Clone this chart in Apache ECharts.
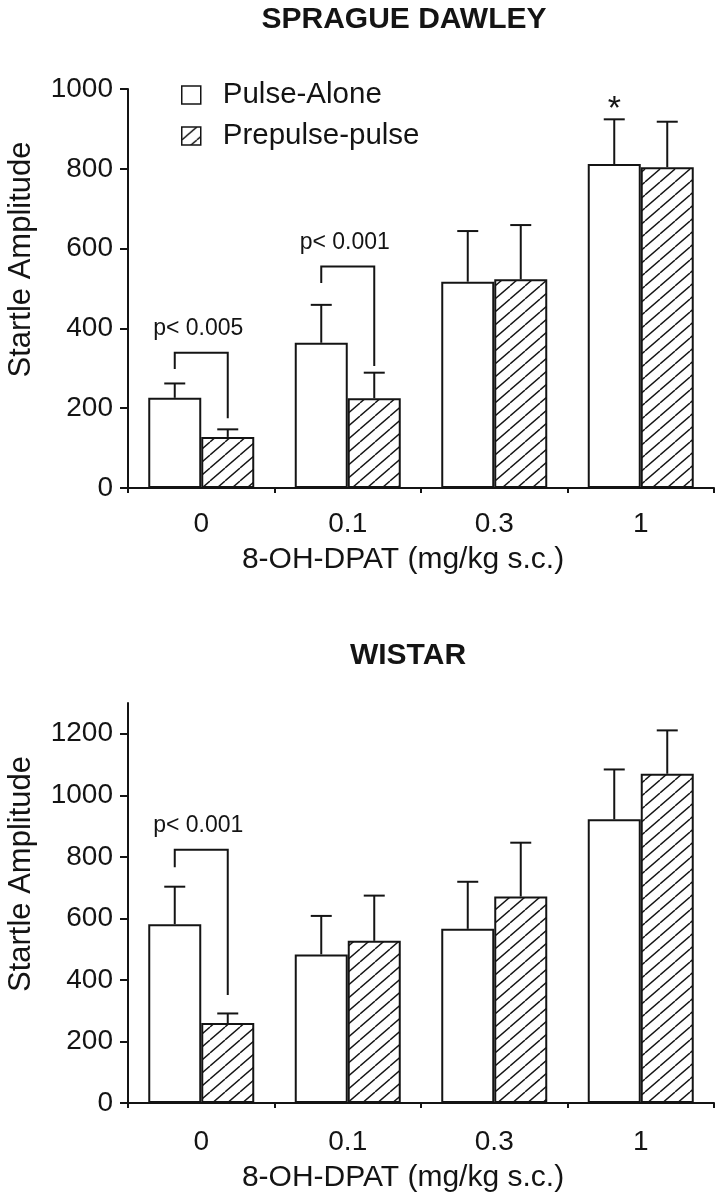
<!DOCTYPE html>
<html><head><meta charset="utf-8">
<script src="https://cdn.jsdelivr.net/npm/echarts@6/dist/echarts.min.js"></script>
<style>html,body{margin:0;padding:0;background:#fff}#c{width:724px;height:1200px}</style>
</head><body><div id="c"></div>
<script>
// ---------------- data ----------------
const categories = ['0', '0.1', '0.3', '1'];
const seriesNames = ['Pulse-Alone', 'Prepulse-pulse'];
const titles = ['SPRAGUE DAWLEY', 'WISTAR'];
const xAxisName = '8-OH-DPAT (mg/kg s.c.)';
const yAxisName = 'Startle Amplitude';

// Sprague Dawley
const sdPulseAlone = [226, 364, 517, 812];
const sdPulseAloneErr = [36, 95, 127, 112];
const sdPrepulse = [128, 225, 523, 804];
const sdPrepulseErr = [19, 64, 136, 114];
const sdYTicks = [0, 200, 400, 600, 800, 1000];
const sdYMax = 1000;

// Wistar
const wPulseAlone = [581, 483, 566, 922];
const wPulseAloneErr = [122, 125, 153, 162];
const wPrepulse = [260, 527, 671, 1070];
const wPrepulseErr = [31, 147, 175, 141];
const wYTicks = [0, 200, 400, 600, 800, 1000, 1200];
const wYMax = 1300;

// significance brackets: [category, top value, left leg bottom, right leg bottom]
const sdBrackets = [[0, 339, 298, 175], [1, 555, 514, 306]];
const sdBracketLabels = ['p< 0.005', 'p< 0.001'];
const wBrackets = [[0, 823, 766, 351]];
const wBracketLabels = ['p< 0.001'];

// star marks: [category, value (top of error bar)]  (on Pulse-Alone bar)
const sdStars = [[3, 924]];
const starLabel = '*';

// ---------------- style ----------------
const INK = '#141414';
const FONT = '"Liberation Sans", Arial, Helvetica, sans-serif';
const BAR_W = 53;
const CAP = 21;

function hatch() {
  const w = 15, h = 13;
  const cv = document.createElement('canvas');
  cv.width = w; cv.height = h;
  const ctx = cv.getContext('2d');
  ctx.fillStyle = '#fff'; ctx.fillRect(0, 0, w, h);
  ctx.strokeStyle = INK; ctx.lineWidth = 1.4;
  [-w, 0, w].forEach((dx) => {
    ctx.beginPath(); ctx.moveTo(dx, h); ctx.lineTo(dx + w, 0); ctx.stroke();
  });
  return { image: cv, repeat: 'repeat' };
}
const HATCH = hatch();

const whiteStyle = { color: '#fff', borderColor: INK, borderWidth: 2 };
const hatchStyle = { color: HATCH, borderColor: INK, borderWidth: 2 };

function errRender(side) {
  return function (params, api) {
    const c = api.value(0), v = api.value(1), e = api.value(2);
    const p0 = api.coord([c, v]), p1 = api.coord([c, v + e]);
    const x = p0[0] + side * BAR_W / 2;
    return {
      type: 'group', children: [
        { type: 'line', shape: { x1: x, y1: p0[1], x2: x, y2: p1[1] }, style: { stroke: INK, lineWidth: 2 } },
        { type: 'line', shape: { x1: x - CAP / 2, y1: p1[1], x2: x + CAP / 2, y2: p1[1] }, style: { stroke: INK, lineWidth: 2 } }
      ]
    };
  };
}
function bracketRender(labels) {
  return function (params, api) {
    const c = api.value(0), top = api.value(1), lb = api.value(2), rb = api.value(3);
    const pt = api.coord([c, top]), pl = api.coord([c, lb]), pr = api.coord([c, rb]);
    const xl = pt[0] - BAR_W / 2, xr = pt[0] + BAR_W / 2;
    return {
      type: 'group', children: [
        { type: 'polyline', shape: { points: [[xl, pl[1]], [xl, pt[1]], [xr, pt[1]], [xr, pr[1]]] },
          style: { stroke: INK, lineWidth: 2, fill: null } },
        { type: 'text', x: pt[0] - 3, y: pt[1] - 24,
          style: { text: labels[params.dataIndex], fill: INK, fontSize: 23, fontFamily: FONT, align: 'center', verticalAlign: 'middle' } }
      ]
    };
  };
}
function starRender(params, api) {
  const c = api.value(0), v = api.value(1);
  const p = api.coord([c, v]);
  return { type: 'text', x: p[0] - BAR_W / 2, y: p[1] - 10,
    style: { text: starLabel, fill: INK, fontSize: 34, fontFamily: FONT, align: 'center', verticalAlign: 'middle' } };
}

const triples = (vals, errs) => vals.map((v, i) => [i, v, errs[i]]);

function xAxis(gridIndex, margin, gap) {
  return {
    type: 'category', gridIndex, data: categories,
    axisLine: { lineStyle: { color: INK, width: 2 } },
    axisTick: { show: true, length: 5, alignWithLabel: false, interval: 0, lineStyle: { color: INK, width: 2 } },
    axisLabel: { color: INK, fontSize: 28, fontFamily: FONT, margin, interval: 0 },
    splitLine: { show: false },
    name: xAxisName, nameLocation: 'middle', nameGap: gap,
    nameTextStyle: { color: INK, fontSize: 30, fontFamily: FONT, padding: [0, 36, 0, 0] }
  };
}
function yAxis(gridIndex, max, ticks) {
  return {
    type: 'value', gridIndex, min: 0, max, interval: 200,
    axisLine: { show: true, lineStyle: { color: INK, width: 2 } },
    axisTick: { show: true, length: 8, customValues: ticks, lineStyle: { color: INK, width: 2 } },
    axisLabel: { color: INK, fontSize: 28, fontFamily: FONT, margin: 15, customValues: ticks,
      formatter: (v) => String(v) },
    splitLine: { show: false },
    name: yAxisName, nameLocation: 'middle', nameGap: 91, nameRotate: 90,
    nameTextStyle: { color: INK, fontSize: 31, fontFamily: FONT, padding: [0, 0, 0, 58] }
  };
}

function groupSeries(gi, pa, paErr, pp, ppErr, brackets, labels, stars) {
  const s = [
    { name: seriesNames[0], type: 'bar', xAxisIndex: gi, yAxisIndex: gi, data: pa, barWidth: BAR_W, barGap: '0%', itemStyle: whiteStyle, z: 2, emphasis: { disabled: true } },
    { name: seriesNames[1], type: 'bar', xAxisIndex: gi, yAxisIndex: gi, data: pp, barWidth: BAR_W, barGap: '0%', itemStyle: hatchStyle, z: 2, emphasis: { disabled: true } },
    { type: 'custom', xAxisIndex: gi, yAxisIndex: gi, renderItem: errRender(-1), data: triples(pa, paErr), encode: { x: 0, y: [1, 2] }, z: 3, silent: true },
    { type: 'custom', xAxisIndex: gi, yAxisIndex: gi, renderItem: errRender(1), data: triples(pp, ppErr), encode: { x: 0, y: [1, 2] }, z: 3, silent: true },
    { type: 'custom', xAxisIndex: gi, yAxisIndex: gi, renderItem: bracketRender(labels), data: brackets, encode: { x: 0, y: [1, 2, 3] }, z: 4, silent: true }
  ];
  if (stars && stars.length) {
    s.push({ type: 'custom', xAxisIndex: gi, yAxisIndex: gi, renderItem: starRender, data: stars, encode: { x: 0, y: 1 }, z: 4, silent: true });
  }
  return s;
}

const chart = echarts.init(document.getElementById('c'), null, { renderer: 'canvas' });
chart.setOption({
  backgroundColor: '#fff',
  animation: false,
  textStyle: { fontFamily: FONT, color: INK },
  title: [
    { text: titles[0], left: 404, top: 5, textAlign: 'center', padding: 0,
      textStyle: { fontSize: 30, fontWeight: 'bold', color: INK, fontFamily: FONT } },
    { text: titles[1], left: 408, top: 641, textAlign: 'center', padding: 0,
      textStyle: { fontSize: 30, fontWeight: 'bold', color: INK, fontFamily: FONT } }
  ],
  legend: {
    orient: 'vertical', left: 181, top: 80, padding: 0, itemGap: 11,
    itemWidth: 19, itemHeight: 18, selectedMode: false,
    textStyle: { fontSize: 29.5, fontFamily: FONT, color: INK, lineHeight: 29, padding: [0, 0, 0, 17] },
    data: [
      { name: seriesNames[0], icon: 'rect', itemStyle: { color: '#fff', borderColor: INK, borderWidth: 1.5 } },
      { name: seriesNames[1], icon: 'rect', itemStyle: { color: HATCH, borderColor: INK, borderWidth: 1.5 } }
    ]
  },
  grid: [
    { left: 128, top: 89, width: 586, height: 399, outerBoundsMode: 'none' },
    { left: 128, top: 703, width: 586, height: 400, outerBoundsMode: 'none' }
  ],
  xAxis: [xAxis(0, 22, 57), xAxis(1, 25, 60)],
  yAxis: [yAxis(0, sdYMax, sdYTicks), yAxis(1, wYMax, wYTicks)],
  series: [].concat(
    groupSeries(0, sdPulseAlone, sdPulseAloneErr, sdPrepulse, sdPrepulseErr, sdBrackets, sdBracketLabels, sdStars),
    groupSeries(1, wPulseAlone, wPulseAloneErr, wPrepulse, wPrepulseErr, wBrackets, wBracketLabels, [])
  )
});
</script>
</body></html>
